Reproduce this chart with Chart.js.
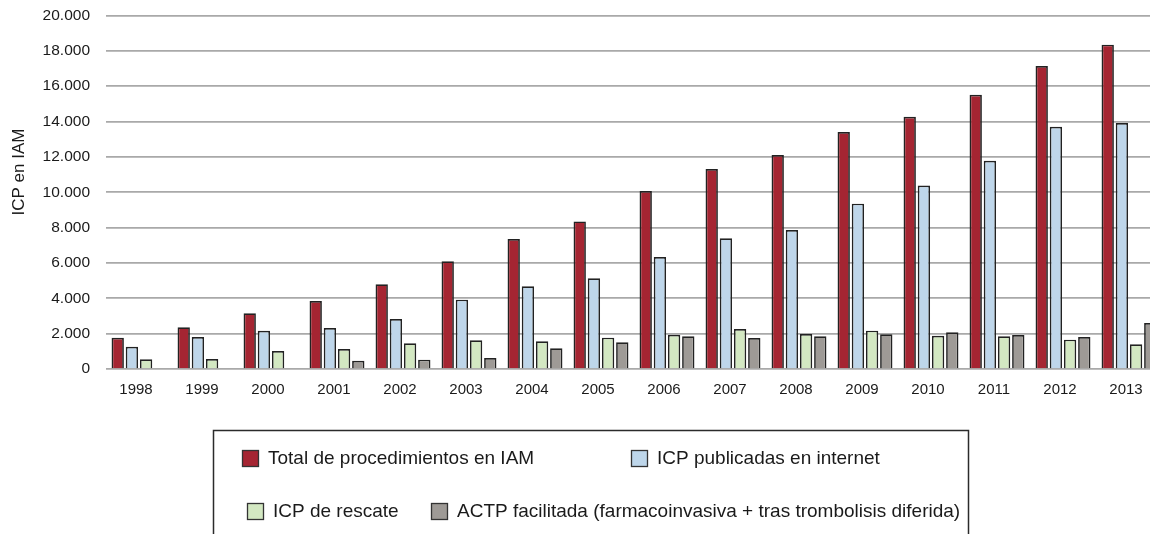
<!DOCTYPE html>
<html lang="es">
<head>
    <meta charset="UTF-8">
    <title>ICP en IAM</title>
    <script src="https://cdn.jsdelivr.net/npm/chart.js"></script>
    <style>
        html, body {
            margin: 0;
            padding: 0;
            background: #ffffff;
            overflow: hidden;
        }
        #chart-box {
            width: 1162px;
            height: 534px;
        }
    </style>
</head>
<body>
    <div id="chart-box">
        <canvas id="icp-chart" width="1162" height="534"></canvas>
    </div>

    <script>
        // Data
        const years = ['1998', '1999', '2000', '2001', '2002', '2003', '2004', '2005',
                       '2006', '2007', '2008', '2009', '2010', '2011', '2012', '2013'];
        const totalIAM = [1770, 2360, 3150, 3850, 4790, 6090, 7355, 8350,
                          10070, 11315, 12105, 13410, 14275, 15520, 17145, 18350];
        const publicadasInternet = [1260, 1810, 2165, 2320, 2830, 3925, 4675, 5130,
                                    6335, 7395, 7865, 9355, 10375, 11785, 13710, 13920];
        const rescate = [545, 565, 1020, 1130, 1450, 1620, 1565, 1775,
                         1940, 2265, 1980, 2170, 1885, 1850, 1660, 1395];
        const facilitada = [null, null, null, 470, 530, 620, 1170, 1510,
                            1850, 1755, 1850, 1960, 2075, 1925, 1810, 2600];
        const seriesNames = ['Total de procedimientos en IAM', 'ICP publicadas en internet',
                             'ICP de rescate', 'ACTP facilitada (farmacoinvasiva + tras trombolisis diferida)'];
        const yTicks = [0, 2000, 4000, 6000, 8000, 10000, 12000, 14000, 16000, 18000, 20000];
        const yTitle = 'ICP en IAM';

        const colors = ['#a52532', '#bed6ea', '#d3e8c2', '#9e9a96'];
        const FONT = '"Liberation Sans", Arial, sans-serif';

        // 12.000 style thousands separator
        function fmt(v) {
            return String(v).replace(/\B(?=(\d{3})+(?!\d))/g, '.');
        }

        // legend box + rotated axis title drawn by hand to sit where the original has them
        const boxLegend = {
            id: 'boxLegend',
            afterDraw(chart) {
                const ctx = chart.ctx;
                ctx.save();
                ctx.lineWidth = 1.5;
                ctx.strokeStyle = '#2b2b2b';
                ctx.strokeRect(213.5, 430.5, 755, 150);

                const slots = [[242, 450], [631, 450], [247, 503], [431, 503]];
                ctx.font = '19px ' + FONT;
                ctx.textBaseline = 'middle';
                ctx.textAlign = 'left';
                chart.data.datasets.forEach((ds, i) => {
                    const [x, y] = slots[i];
                    ctx.fillStyle = ds.backgroundColor;
                    ctx.fillRect(x, y, 17, 17);
                    ctx.lineWidth = 1.3;
                    ctx.strokeStyle = '#333';
                    ctx.strokeRect(x + 0.5, y + 0.5, 16, 16);
                    ctx.fillStyle = '#1a1a1a';
                    ctx.fillText(ds.label, x + 26, y + 9);
                });

                ctx.translate(19, 172);
                ctx.rotate(-Math.PI / 2);
                ctx.textAlign = 'center';
                ctx.font = '17px ' + FONT;
                ctx.fillText(yTitle, 0, 0);
                ctx.restore();
            }
        };

        const seriesData = [totalIAM, publicadasInternet, rescate, facilitada];

        const icpChart = new Chart(document.getElementById('icp-chart'), {
            type: 'bar',
            data: {
                labels: years,
                datasets: seriesData.map((d, i) => ({
                    label: seriesNames[i],
                    data: d,
                    backgroundColor: colors[i],
                    borderColor: '#222222',
                    borderWidth: 1.7,
                    borderSkipped: 'bottom',
                    categoryPercentage: 0.86,
                    barPercentage: 0.87
                }))
            },
            options: {
                responsive: false,
                animation: false,
                layout: { padding: { top: 15.5, left: 0, right: 0, bottom: 0 } },
                plugins: {
                    legend: { display: false },
                    tooltip: { enabled: false }
                },
                scales: {
                    x: {
                        grid: { display: false, drawTicks: false },
                        border: { display: false },
                        ticks: {
                            color: '#1a1a1a',
                            font: { family: FONT, size: 15 },
                            padding: 12,
                            labelOffset: -3,
                            maxRotation: 0
                        },
                        afterFit(scale) { scale.height = 165; }
                    },
                    y: {
                        min: 0,
                        max: 20000,
                        afterBuildTicks(scale) {
                            scale.ticks = yTicks.map(v => ({ value: v }));
                        },
                        // invisible tick marks give the gap between labels and plot
                        grid: { color: '#a9a9a9', lineWidth: 1.7, drawTicks: true, tickLength: 16, tickColor: 'rgba(0,0,0,0)' },
                        border: { display: false },
                        ticks: {
                            color: '#1a1a1a',
                            font: { family: FONT, size: 15.5 },
                            padding: 0,
                            callback: v => fmt(v)
                        },
                        afterFit(scale) { scale.width = 106; }
                    }
                }
            },
            plugins: [boxLegend]
        });
    </script>
</body>
</html>
